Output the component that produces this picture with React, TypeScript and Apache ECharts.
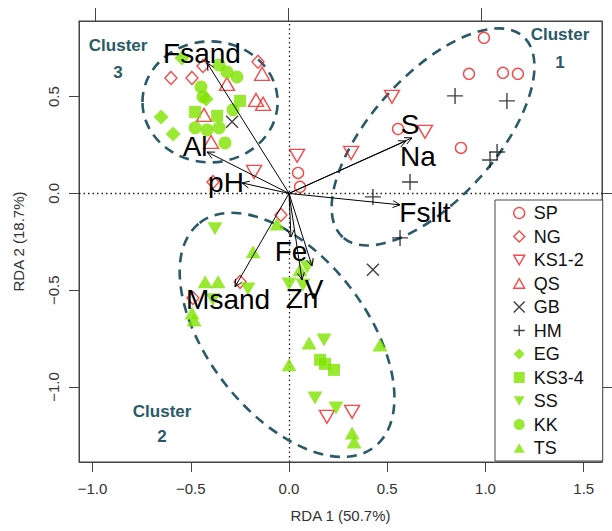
import React, { useEffect, useRef } from 'react';
import * as echarts from 'echarts';

// ---- axis ticks ----
const xTicks = [-1, -0.5, 0, 0.5, 1, 1.5];
const yTicks = [-1, -0.5, 0, 0.5];
const topTicks = [-1, 0, 1];
const rightTicks = [0, -1];

// ---- site scores by group ----
const SP = [[0.046, 0.106], [0.056, 0.034], [0.992, 0.804], [0.916, 0.618], [1.089, 0.623], [1.165, 0.618], [0.555, 0.333], [0.875, 0.235]];
const NG = [[-0.601, 0.597], [-0.494, 0.597], [-0.438, 0.659], [-0.158, 0.68], [-0.387, 0.059], [-0.041, -0.111], [-0.249, -0.457], [-0.489, -0.54]];
const KS12 = [[0.041, 0.194], [-0.178, 0.111], [0.524, 0.499], [0.692, 0.318], [0.316, 0.209], [0.193, -1.155], [0.321, -1.129]];
const QS = [[-0.137, 0.618], [-0.168, 0.483], [-0.132, 0.463], [-0.433, 0.406], [-0.397, 0.266], [-0.316, 0.566]];
const GB = [[-0.29, 0.37], [0.427, -0.395]];
const HM = [[0.845, 0.504], [1.109, 0.478], [1.059, 0.214], [1.023, 0.173], [0.616, 0.059], [0.427, -0.018], [0.565, -0.23]];
const EG = [[-0.545, 0.7], [-0.651, 0.395], [-0.59, 0.307], [-0.422, 0.488]];
const KS34 = [[-0.478, 0.421], [-0.249, 0.478], [-0.366, 0.401], [0.158, -0.86], [0.183, -0.881], [0.229, -0.912]];
const SS = [[-0.377, -0.183], [-0.209, -0.494], [-0.387, -0.55], [0.0, -0.468], [0.092, -0.38], [0.071, -0.473], [0.178, -0.757], [0.132, -1.057], [0.239, -1.109]];
const KK = [[-0.356, 0.664], [-0.316, 0.628], [-0.265, 0.602], [-0.448, 0.55], [-0.438, 0.499], [-0.285, 0.432], [-0.326, 0.261], [-0.478, 0.339], [-0.417, 0.328], [-0.356, 0.339]];
const TS = [[-0.061, -0.158], [-0.183, -0.302], [-0.427, -0.457], [-0.361, -0.457], [-0.494, -0.618], [-0.483, -0.654], [0.056, -0.395], [0.102, -0.773], [0.463, -0.783], [0.0, -0.886], [0.321, -1.238], [0.331, -1.284]];

// ---- environmental vectors ----
const arrowNames = ['Fsand', 'Al', 'pH', 'S', 'Na', 'Fsilt', 'Fe', 'Zn', 'V', 'Msand'];
const arrowEnds = [[-0.417, 0.674], [-0.417, 0.214], [-0.239, 0.054], [0.626, 0.287], [0.595, 0.271], [0.565, -0.059], [0.01, -0.225], [0.066, -0.447], [0.117, -0.375], [-0.275, -0.483]];
const arrowLabelPos = [[-0.443, 0.721], [-0.478, 0.24], [-0.321, 0.054], [0.616, 0.354], [0.656, 0.189], [0.692, -0.101], [0.01, -0.302], [0.066, -0.545], [0.127, -0.494], [-0.31, -0.55]];

// ---- cluster ellipses (data units) ----
const clusterNames = ['1', '2', '3'];
const clusterCenters = [[0.733, 0.292], [-0.01, -0.731], [-0.402, 0.473]];
const clusterAxes = [[0.687, 0.316], [0.723, 0.402], [0.344, 0.308]];
const clusterAngles = [48, -52, 0];
const clusterLabelPos = [[1.379, 0.819, 0.674], [-0.646, -1.129, -1.258], [-0.87, 0.762, 0.623]];

const RED = '#f21d1d';
const GREEN = '#7fe400';
const BLACK = '#111';
const TEAL = '#2a5a68';
const FONT = 'Liberation Sans, Arial, Helvetica, sans-serif';

const DOWN = 'path://M0,0L10,0L5,8.7Z';
const UP = 'path://M5,0L10,8.7L0,8.7Z';
const CROSS = 'path://M0,0L10,10M10,0L0,10';
const PLUS = 'path://M5,0L5,10M0,5L10,5';

const groups = [
  { name: 'SP', data: SP, symbol: 'circle', size: [11, 11], hollow: true, color: RED },
  { name: 'NG', data: NG, symbol: 'diamond', size: [12, 13], hollow: true, color: RED },
  { name: 'KS1-2', data: KS12, symbol: DOWN, size: [15, 13], hollow: true, color: RED },
  { name: 'QS', data: QS, symbol: UP, size: [15, 13], hollow: true, color: RED },
  { name: 'GB', data: GB, symbol: CROSS, size: [12, 12], hollow: true, color: BLACK },
  { name: 'HM', data: HM, symbol: PLUS, size: [16, 16], hollow: true, color: BLACK },
  { name: 'EG', data: EG, symbol: 'diamond', size: [15, 15], hollow: false, color: GREEN },
  { name: 'KS3-4', data: KS34, symbol: 'rect', size: [12, 12], hollow: false, color: GREEN },
  { name: 'SS', data: SS, symbol: DOWN, size: [15, 13], hollow: false, color: GREEN },
  { name: 'KK', data: KK, symbol: 'circle', size: [13, 13], hollow: false, color: GREEN },
  { name: 'TS', data: TS, symbol: UP, size: [15, 13], hollow: false, color: GREEN },
];

const fmt = (v: number) => (v < 0 ? '\u2212' + Math.abs(v).toFixed(1) : v.toFixed(1));

const styleOf = (g: any) =>
  g.hollow
    ? { color: 'rgba(0,0,0,0)', borderColor: g.color, borderWidth: 1.4 }
    : { color: g.color, borderWidth: 0 };

export default function App() {
  const ref = useRef<HTMLDivElement>(null);
  useEffect(() => {
    if (!ref.current) return;
    const chart = echarts.init(ref.current, undefined, { renderer: 'svg' });

    const series: any[] = groups.map((g, i) => ({
      name: g.name,
      type: 'scatter',
      xAxisIndex: 0,
      yAxisIndex: 0,
      data: g.data,
      symbol: g.symbol,
      symbolSize: g.size,
      itemStyle: styleOf(g),
      z: 3,
      ...(i === 0
        ? {
            markLine: {
              silent: true,
              symbol: ['none', 'none'],
              label: { show: false },
              lineStyle: { type: [1.5, 3], color: '#222', width: 1.3 },
              data: [{ xAxis: 0 }, { yAxis: 0 }],
              z: 1,
            },
          }
        : {}),
    }));

    series.push({
      type: 'custom',
      name: 'vectors',
      xAxisIndex: 0,
      yAxisIndex: 0,
      z: 5,
      silent: true,
      data: arrowEnds.map((e, i) => [e[0], e[1], arrowLabelPos[i][0], arrowLabelPos[i][1]]),
      renderItem: (params: any, api: any) => {
        const o = api.coord([0, 0]);
        const e = api.coord([api.value(0), api.value(1)]);
        const l = api.coord([api.value(2), api.value(3)]);
        const ang = Math.atan2(e[1] - o[1], e[0] - o[0]);
        const h = 8;
        const sp = 0.45;
        const p1 = [e[0] - h * Math.cos(ang - sp), e[1] - h * Math.sin(ang - sp)];
        const p2 = [e[0] - h * Math.cos(ang + sp), e[1] - h * Math.sin(ang + sp)];
        return {
          type: 'group',
          children: [
            { type: 'line', shape: { x1: o[0], y1: o[1], x2: e[0], y2: e[1] }, style: { stroke: '#000', lineWidth: 1 } },
            { type: 'polyline', shape: { points: [p1, e, p2] }, style: { stroke: '#000', fill: 'none', lineWidth: 1 } },
            {
              type: 'text',
              x: l[0],
              y: l[1],
              style: {
                text: arrowNames[params.dataIndex],
                fontSize: 28,
                fontFamily: FONT,
                fill: '#000',
                align: 'center',
                verticalAlign: 'middle',
              },
            },
          ],
        };
      },
    });

    const option: any = {
      animation: false,
      backgroundColor: '#fff',
      grid: { left: 79, right: 10, top: 21, bottom: 69, show: true, borderColor: '#444', borderWidth: 1, backgroundColor: 'transparent' },
      xAxis: [
        {
          type: 'value',
          min: -1.069,
          max: 1.593,
          position: 'bottom',
          axisLine: { show: true, onZero: false, lineStyle: { color: '#444' } },
          axisTick: { show: true, customValues: xTicks, length: 10, lineStyle: { color: '#444' } },
          axisLabel: { customValues: xTicks, formatter: fmt, fontSize: 15, color: '#333', fontFamily: FONT, margin: 19 },
          splitLine: { show: false },
          name: 'RDA 1 (50.7%)',
          nameLocation: 'middle',
          nameGap: 46,
          nameTextStyle: { fontSize: 15, color: '#333', fontFamily: FONT },
        },
        {
          type: 'value',
          min: -1.083,
          max: 1.627,
          position: 'top',
          axisLine: { show: true, onZero: false, lineStyle: { color: '#444' } },
          axisTick: { show: true, customValues: topTicks, length: 13, lineStyle: { color: '#444' } },
          axisLabel: { show: false },
          splitLine: { show: false },
        },
      ],
      yAxis: [
        {
          type: 'value',
          min: -1.388,
          max: 0.891,
          position: 'left',
          axisLine: { show: true, onZero: false, lineStyle: { color: '#444' } },
          axisTick: { show: true, customValues: yTicks, length: 10, lineStyle: { color: '#444' } },
          axisLabel: { customValues: yTicks, formatter: fmt, fontSize: 15, color: '#333', fontFamily: FONT, rotate: 90, margin: 18 },
          splitLine: { show: false },
          name: 'RDA 2 (18.7%)',
          nameLocation: 'middle',
          nameGap: 53,
          nameTextStyle: { fontSize: 15, color: '#333', fontFamily: FONT },
        },
        {
          type: 'value',
          min: -1.388,
          max: 0.891,
          position: 'right',
          axisLine: { show: true, onZero: false, lineStyle: { color: '#444' } },
          axisTick: { show: true, customValues: rightTicks, length: 12, lineStyle: { color: '#444' } },
          axisLabel: { show: false },
          splitLine: { show: false },
        },
      ],
      legend: {
        orient: 'vertical',
        left: 495,
        top: 200,
        padding: [3, 19, 3, 18],
        itemWidth: 11,
        itemHeight: 11,
        itemGap: 3.5,
        backgroundColor: '#fff',
        borderColor: '#444',
        borderWidth: 1,
        borderRadius: 0,
        z: 10,
        textStyle: { fontSize: 18, lineHeight: 20, color: '#111', fontFamily: FONT, padding: [0, 0, 0, 4] },
        data: groups.map((g) => ({ name: g.name, icon: g.symbol, itemStyle: styleOf(g) })),
      },
      series,
    };
    chart.setOption(option);

    const toPx = (p: number[]) => chart.convertToPixel({ xAxisIndex: 0, yAxisIndex: 0 }, p) as number[];
    const o = toPx([0, 0]);
    const u = toPx([1, 0])[0] - o[0];
    const graphics: any[] = [];
    clusterCenters.forEach((c, i) => {
      const p = toPx(c);
      graphics.push({
        type: 'ellipse',
        x: p[0],
        y: p[1],
        rotation: (clusterAngles[i] * Math.PI) / 180,
        shape: { cx: 0, cy: 0, rx: clusterAxes[i][0] * u, ry: clusterAxes[i][1] * u },
        style: { fill: 'none', stroke: TEAL, lineWidth: 2.6, lineDash: [10, 7] },
        silent: true,
        z: 1,
      });
      const lp = clusterLabelPos[i];
      const a = toPx([lp[0], lp[1]]);
      const b = toPx([lp[0], lp[2]]);
      graphics.push({
        type: 'text',
        x: a[0],
        y: a[1],
        style: { text: 'Cluster', fontSize: 17, fontWeight: 'bold', fontFamily: FONT, fill: TEAL, align: 'center', verticalAlign: 'middle' },
        z: 6,
      });
      graphics.push({
        type: 'text',
        x: b[0],
        y: b[1],
        style: { text: clusterNames[i], fontSize: 17, fontWeight: 'bold', fontFamily: FONT, fill: TEAL, align: 'center', verticalAlign: 'middle' },
        z: 6,
      });
    });
    chart.setOption({ graphic: graphics });

    return () => chart.dispose();
  }, []);
  return <div ref={ref} style={{ position: 'absolute', left: 0, top: 0, width: 612, height: 531 }} />;
}
